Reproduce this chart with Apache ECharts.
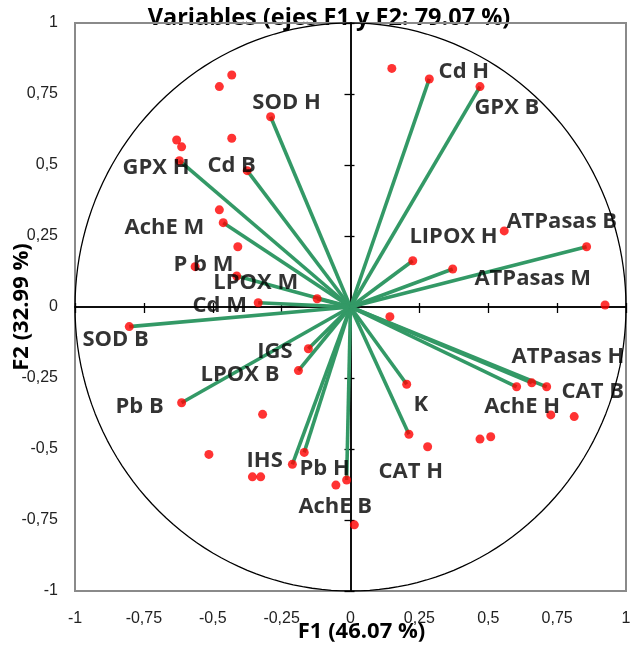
<!DOCTYPE html>
<html><head><meta charset="utf-8">
<script src="https://cdn.jsdelivr.net/npm/echarts@6/dist/echarts.min.js"></script>
<style>html,body{margin:0;padding:0;background:#fff}#c{width:631px;height:646px}</style>
</head><body><div id="c"></div><script>
// Vectors (drawn as green lines from the origin, with a red dot at the end)
const vectorX = [-0.290, -0.621, -0.375, 0.286, 0.470, -0.462, -0.413, -0.121, -0.335, -0.803, -0.153, -0.189, -0.613, -0.211, -0.168, -0.014, 0.204, 0.212, 0.603, 0.658, 0.712, 0.226, 0.371, 0.857];
const vectorY = [0.670, 0.515, 0.480, 0.803, 0.776, 0.297, 0.109, 0.029, 0.015, -0.069, -0.147, -0.224, -0.337, -0.554, -0.512, -0.609, -0.272, -0.448, -0.281, -0.267, -0.281, 0.163, 0.134, 0.212];
// Extra red points (no line)
const pointX = [-0.431, -0.476, -0.631, -0.613, -0.431, -0.476, -0.409, -0.564, -0.319, -0.514, -0.356, -0.326, -0.053, 0.014, 0.280, 0.470, 0.509, 0.727, 0.812, 0.143, 0.558, 0.924, 0.150];
const pointY = [0.817, 0.776, 0.588, 0.564, 0.594, 0.342, 0.212, 0.142, -0.378, -0.519, -0.598, -0.598, -0.627, -0.767, -0.492, -0.465, -0.457, -0.380, -0.386, -0.034, 0.268, 0.007, 0.840];
// Variable labels and their anchor positions (left edge, vertical middle) in F1/F2 units
const labelNames = ['SOD H', 'Cd H', 'GPX B', 'GPX H', 'Cd B', 'AchE M', 'P b M', 'LPOX M', 'Cd M', 'SOD B', 'IGS', 'LPOX B', 'Pb B', 'IHS', 'Pb H', 'AchE B', 'K', 'CAT H', 'AchE H', 'CAT B', 'ATPasas H', 'ATPasas M', 'ATPasas B', 'LIPOX H'];
const labelX = [-0.358, 0.318, 0.448, -0.829, -0.521, -0.822, -0.644, -0.500, -0.575, -0.975, -0.340, -0.546, -0.855, -0.379, -0.187, -0.191, 0.227, 0.100, 0.484, 0.764, 0.583, 0.448, 0.564, 0.212];
const labelY = [0.718, 0.827, 0.701, 0.489, 0.496, 0.278, 0.148, 0.085, 0.004, -0.116, -0.158, -0.239, -0.352, -0.542, -0.570, -0.704, -0.345, -0.581, -0.352, -0.299, -0.176, 0.099, 0.299, 0.246];
// Tick labels
const tickLabels = ['-1', '-0,75', '-0,5', '-0,25', '0', '0,25', '0,5', '0,75', '1'];
const titleText = 'Variables (ejes F1 y F2: 79.07 %)';
const xName = 'F1 (46.07 %)';
const yName = 'F2 (32.99 %)';

const FONT = "'Open Sans', sans-serif";
const tickFmt = v => tickLabels[Math.round((v + 1) / 0.25)];

// unit correlation circle (geometric guide)
const circle = [];
for (let a = 0; a <= 360; a += 2) {
  const r = a * Math.PI / 180;
  circle.push([Math.cos(r), Math.sin(r)]);
}

const gridRect = { left: 75, top: 23, width: 551, height: 568, containLabel: false, outerBoundsMode: 'none' };
const baseAxis = { type: 'value', min: -1, max: 1, interval: 0.25, splitLine: { show: false } };

const chart = echarts.init(document.getElementById('c'), null, { renderer: 'canvas' });
chart.setOption({
  animation: false,
  backgroundColor: '#fff',
  title: {
    text: titleText, left: 324, top: 1, textAlign: 'center', z: -1,
    textStyle: { fontFamily: FONT, fontWeight: 'bold', fontSize: 23.5, color: '#000' }
  },
  grid: [
    Object.assign({ show: true, borderColor: '#8a8a8a', borderWidth: 2, backgroundColor: 'transparent' }, gridRect),
    Object.assign({}, gridRect),
    Object.assign({}, gridRect)
  ],
  xAxis: [
    Object.assign({}, baseAxis, {
      gridIndex: 0, position: 'bottom',
      axisLine: { show: false, onZero: false }, axisTick: { show: false },
      axisLabel: { formatter: tickFmt, margin: 20, fontFamily: 'Liberation Sans', fontSize: 16, color: '#222' },
      name: xName, nameLocation: 'middle', nameGap: 30, nameMoveOverlap: false,
      nameTextStyle: { fontFamily: FONT, fontWeight: 'bold', fontSize: 22, color: '#000', padding: [0, 0, 0, 22] }
    }),
    Object.assign({}, baseAxis, {
      gridIndex: 1, position: 'bottom',
      axisLine: { show: true, onZero: true, lineStyle: { color: '#000', width: 1.5 } },
      axisTick: { show: true, length: 6, lineStyle: { color: '#000', width: 1.3 } },
      axisLabel: { show: false }
    }),
    Object.assign({}, baseAxis, {
      gridIndex: 2, position: 'top',
      axisLine: { show: true, onZero: true, lineStyle: { color: '#000', width: 1.5 } },
      axisTick: { show: true, length: 4, lineStyle: { color: '#000', width: 1.3 } },
      axisLabel: { show: false }
    })
  ],
  yAxis: [
    Object.assign({}, baseAxis, {
      gridIndex: 0, position: 'left',
      axisLine: { show: false, onZero: false }, axisTick: { show: false },
      axisLabel: { formatter: tickFmt, margin: 17, fontFamily: 'Liberation Sans', fontSize: 16, color: '#222' },
      name: yName, nameLocation: 'middle', nameGap: 42, nameRotate: 90, nameMoveOverlap: false,
      nameTextStyle: { fontFamily: FONT, fontWeight: 'bold', fontSize: 22, color: '#000' }
    }),
    Object.assign({}, baseAxis, {
      gridIndex: 1, position: 'left',
      axisLine: { show: true, onZero: true, lineStyle: { color: '#000', width: 1.5 } },
      axisTick: { show: true, length: 6, lineStyle: { color: '#000', width: 1.3 } },
      axisLabel: { show: false }
    }),
    Object.assign({}, baseAxis, {
      gridIndex: 2, position: 'right',
      axisLine: { show: true, onZero: true, lineStyle: { color: '#000', width: 1.5 } },
      axisTick: { show: true, length: 4, lineStyle: { color: '#000', width: 1.3 } },
      axisLabel: { show: false }
    })
  ],
  series: [
    {
      type: 'line', xAxisIndex: 0, yAxisIndex: 0, data: circle,
      showSymbol: false, symbol: 'none', silent: true, z: 1,
      lineStyle: { color: '#000', width: 1.3 }
    },
    {
      type: 'lines', coordinateSystem: 'cartesian2d', xAxisIndex: 0, yAxisIndex: 0, z: 3, silent: true,
      lineStyle: { color: '#339966', width: 3.6, opacity: 1 },
      data: vectorX.map((x, i) => ({ coords: [[0, 0], [x, vectorY[i]]] }))
    },
    {
      type: 'scatter', xAxisIndex: 0, yAxisIndex: 0, z: 4, silent: true,
      symbol: 'circle', symbolSize: 9, itemStyle: { color: '#ff0000' },
      data: vectorX.map((x, i) => [x, vectorY[i]]).concat(pointX.map((x, i) => [x, pointY[i]]))
    },
    {
      type: 'scatter', xAxisIndex: 0, yAxisIndex: 0, z: 5, silent: true,
      symbol: 'circle', symbolSize: 1, itemStyle: { color: 'rgba(0,0,0,0)' },
      label: {
        show: true, position: 'right', distance: 0,
        formatter: p => p.name,
        fontFamily: FONT, fontWeight: 'bold', fontSize: 22, color: '#000'
      },
      data: labelNames.map((n, i) => ({ name: n, value: [labelX[i], labelY[i]] }))
    }
  ]
});
</script></body></html>
